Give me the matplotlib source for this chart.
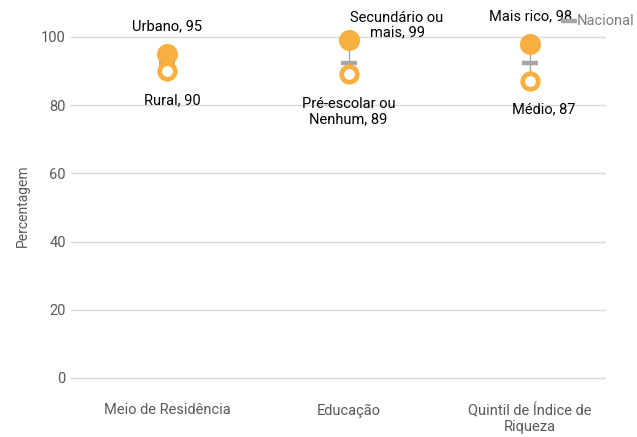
import matplotlib.pyplot as plt

categories = ['Meio de Residência', 'Educação', 'Quintil de Índice de\nRiqueza']
high_vals = [95, 99, 98]
low_vals = [90, 89, 87]
national = [92.3, 92.3, 92.3]
high_labels = ['Urbano, 95', 'Secundário ou\nmais, 99', 'Mais rico, 98']
low_labels = ['Rural, 90', 'Pré-escolar ou\nNenhum, 89', 'Médio, 87']

plt.rcParams['font.family'] = ['Roboto', 'DejaVu Sans']
orange = '#F9AE40'
gray = '#A6A6A6'

fig = plt.figure(figsize=(6.37, 4.37), dpi=100)
ax = fig.add_axes([0.1197, 0.1117, 0.832, 0.835])

x = list(range(len(categories)))

# connecting lines
for i in x:
    ax.plot([i, i], [low_vals[i], high_vals[i]], color=gray, lw=1, zorder=1)

ax.scatter(x, national, marker='_', s=144, linewidths=3.2, color=gray, zorder=2, label='Nacional')
ax.scatter(x, high_vals, s=200, color=orange, zorder=3)
ax.scatter(x, low_vals, s=125, facecolor='white', edgecolor=orange, linewidths=3.4, zorder=3)

# data labels
high_offsets = [(0, 20), (35, 11), (0, 20)]
low_offsets = [(4, -21), (0, -27), (10, -20)]
for i in x:
    ax.annotate(high_labels[i], (i, high_vals[i]), xytext=high_offsets[i],
                textcoords='offset points', ha='center', va='center', fontsize=10.5,
                linespacing=1.1)
    ax.annotate(low_labels[i], (i, low_vals[i]), xytext=low_offsets[i],
                textcoords='offset points', ha='center', va='center', fontsize=10.5,
                linespacing=1.1)

ax.set_xlim(-0.5, 2.42)
ax.set_ylim(-3, 104)
ax.set_yticks([0, 20, 40, 60, 80, 100])
ax.set_xticks(x)
ax.set_xticklabels(categories, linespacing=1.1)
ax.tick_params(axis='x', length=0, pad=11, labelsize=10.5, colors='#595959')
ax.tick_params(axis='y', length=4, color='#D9D9D9', labelsize=10.5, colors='#595959')
ax.set_ylabel('Percentagem', color='#595959', fontsize=10, labelpad=8)
ax.grid(axis='y', color='#D9D9D9', lw=1)
ax.set_axisbelow(True)
for s in ax.spines.values():
    s.set_visible(False)

leg = fig.legend(loc='center left', bbox_to_anchor=(0.878, 0.953), frameon=False,
                 handlelength=0.6, handletextpad=0.2, fontsize=10.5, borderaxespad=0)
for t in leg.get_texts():
    t.set_color('#7F7F7F')

fig.savefig('out.png', dpi=100)
